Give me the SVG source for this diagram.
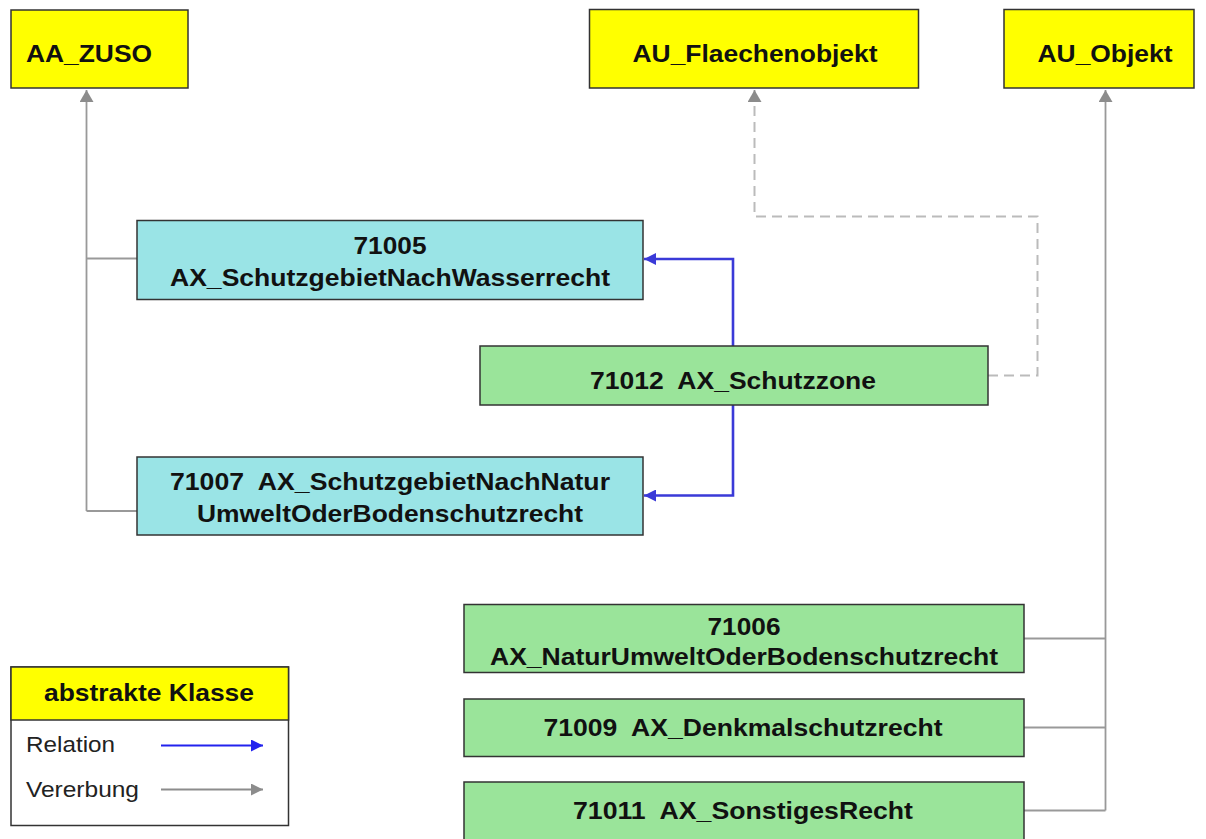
<svg xmlns="http://www.w3.org/2000/svg" width="1206" height="839" viewBox="0 0 1206 839" xml:space="preserve">
<style>
.box{stroke:#333;stroke-width:1.5}
.abs{fill:#ffff00}
.cyan{fill:#9ae4e6}
.green{fill:#9ae49a}
.t{font-family:"Liberation Sans",Arial,sans-serif;font-size:24px;font-weight:bold;fill:#111;text-anchor:middle;white-space:pre}
.tl{text-anchor:start}
.leg{font-family:"Liberation Sans",Arial,sans-serif;font-size:22px;fill:#222}
.inh{fill:none;stroke:#999;stroke-width:1.8}
.dash{fill:none;stroke:#bbb;stroke-width:2;stroke-dasharray:10 6}
.rel{fill:none;stroke:#3a3ad8;stroke-width:2.6}
</style>
<defs>
<marker id="relArrow" viewBox="0 0 12 12" refX="12" refY="6" markerWidth="12" markerHeight="12" markerUnits="userSpaceOnUse" orient="auto">
<path d="M0,0 L12,6 L0,12 z" fill="#3a3ad8"/>
</marker>
<marker id="relArrowLeg" viewBox="0 0 12 12" refX="12" refY="6" markerWidth="13" markerHeight="12" markerUnits="userSpaceOnUse" orient="auto">
<path d="M0,0 L12,6 L0,12 z" fill="#2222ee"/>
</marker>
<marker id="relArrowLegG" viewBox="0 0 12 12" refX="12" refY="6" markerWidth="13" markerHeight="12" markerUnits="userSpaceOnUse" orient="auto">
<path d="M0,0 L12,6 L0,12 z" fill="#8c8c8c"/>
</marker>
<marker id="inhArrow" viewBox="0 0 12 14" refX="12" refY="7" markerWidth="12" markerHeight="14" markerUnits="userSpaceOnUse" orient="auto">
<path d="M0,0 L12,7 L0,14 z" fill="#8c8c8c"/>
</marker>
</defs>

<g id="connectors">
<path class="inh" d="M86.5,511 V90" marker-end="url(#inhArrow)"/>
<path class="inh" d="M86.5,258.5 H137"/>
<path class="inh" d="M86.5,511 H137"/>
<path class="dash" d="M988,375.5 H1037.5 V216.5 H754.5 V102"/>
<path d="M754.5,102 V90" fill="none" stroke="#999" stroke-width="1.8" marker-end="url(#inhArrow)"/>
<path class="inh" d="M1105.5,810.5 V90" marker-end="url(#inhArrow)"/>
<path class="inh" d="M1024,638.5 H1105.5"/>
<path class="inh" d="M1024,727.5 H1105.5"/>
<path class="inh" d="M1024,810.5 H1105.5"/>
<path class="rel" d="M733,346 V259 H644" marker-end="url(#relArrow)"/>
<path class="rel" d="M733,405 V495.5 H644" marker-end="url(#relArrow)"/>
</g>

<g id="AA_ZUSO">
<rect class="box abs" x="11" y="10" width="177" height="78"/>
<text class="t tl" x="26" y="62" textLength="126" lengthAdjust="spacingAndGlyphs">AA_ZUSO</text>
</g>
<g id="AU_Flaechenobjekt">
<rect class="box abs" x="589.5" y="9.5" width="329" height="78.5"/>
<text class="t" x="755" y="62" textLength="245" lengthAdjust="spacingAndGlyphs">AU_Flaechenobjekt</text>
</g>
<g id="AU_Objekt">
<rect class="box abs" x="1004" y="9.5" width="190" height="78.5"/>
<text class="t" x="1105" y="62" textLength="135" lengthAdjust="spacingAndGlyphs">AU_Objekt</text>
</g>

<g id="n71005">
<rect class="box cyan" x="137" y="220.5" width="506" height="79"/>
<text class="t" x="390" y="254" textLength="73" lengthAdjust="spacingAndGlyphs">71005</text>
<text class="t" x="390" y="286" textLength="440" lengthAdjust="spacingAndGlyphs">AX_SchutzgebietNachWasserrecht</text>
</g>
<g id="n71012">
<rect class="box green" x="480" y="346" width="508" height="59"/>
<text class="t" x="733" y="389" textLength="286" lengthAdjust="spacingAndGlyphs">71012  AX_Schutzzone</text>
</g>
<g id="n71007">
<rect class="box cyan" x="137" y="457" width="506" height="78"/>
<text class="t" x="390" y="490" textLength="440" lengthAdjust="spacingAndGlyphs">71007  AX_SchutzgebietNachNatur</text>
<text class="t" x="390" y="522" textLength="386" lengthAdjust="spacingAndGlyphs">UmweltOderBodenschutzrecht</text>
</g>
<g id="n71006">
<rect class="box green" x="464" y="604.5" width="560" height="68"/>
<text class="t" x="744" y="635" textLength="73" lengthAdjust="spacingAndGlyphs">71006</text>
<text class="t" x="744" y="665" textLength="508" lengthAdjust="spacingAndGlyphs">AX_NaturUmweltOderBodenschutzrecht</text>
</g>
<g id="n71009">
<rect class="box green" x="464" y="699" width="560" height="57.5"/>
<text class="t" x="743" y="736" textLength="399" lengthAdjust="spacingAndGlyphs">71009  AX_Denkmalschutzrecht</text>
</g>
<g id="n71011">
<rect class="box green" x="464" y="782" width="560" height="70"/>
<text class="t" x="743" y="819" textLength="340" lengthAdjust="spacingAndGlyphs">71011  AX_SonstigesRecht</text>
</g>

<g id="legend">
<rect class="box" x="11" y="667" width="277.5" height="158.5" fill="#fff"/>
<rect class="box abs" x="11" y="667" width="277.5" height="53"/>
<text class="t" x="149" y="701" textLength="210" lengthAdjust="spacingAndGlyphs">abstrakte Klasse</text>
<text class="leg" x="26" y="752" textLength="89" lengthAdjust="spacingAndGlyphs">Relation</text>
<path d="M161,745.5 H263" fill="none" stroke="#2222ee" stroke-width="2" marker-end="url(#relArrowLeg)"/>
<text class="leg" x="26" y="797" textLength="113" lengthAdjust="spacingAndGlyphs">Vererbung</text>
<path d="M161,789.5 H263" fill="none" stroke="#8c8c8c" stroke-width="2" marker-end="url(#relArrowLegG)"/>
</g>
</svg>
